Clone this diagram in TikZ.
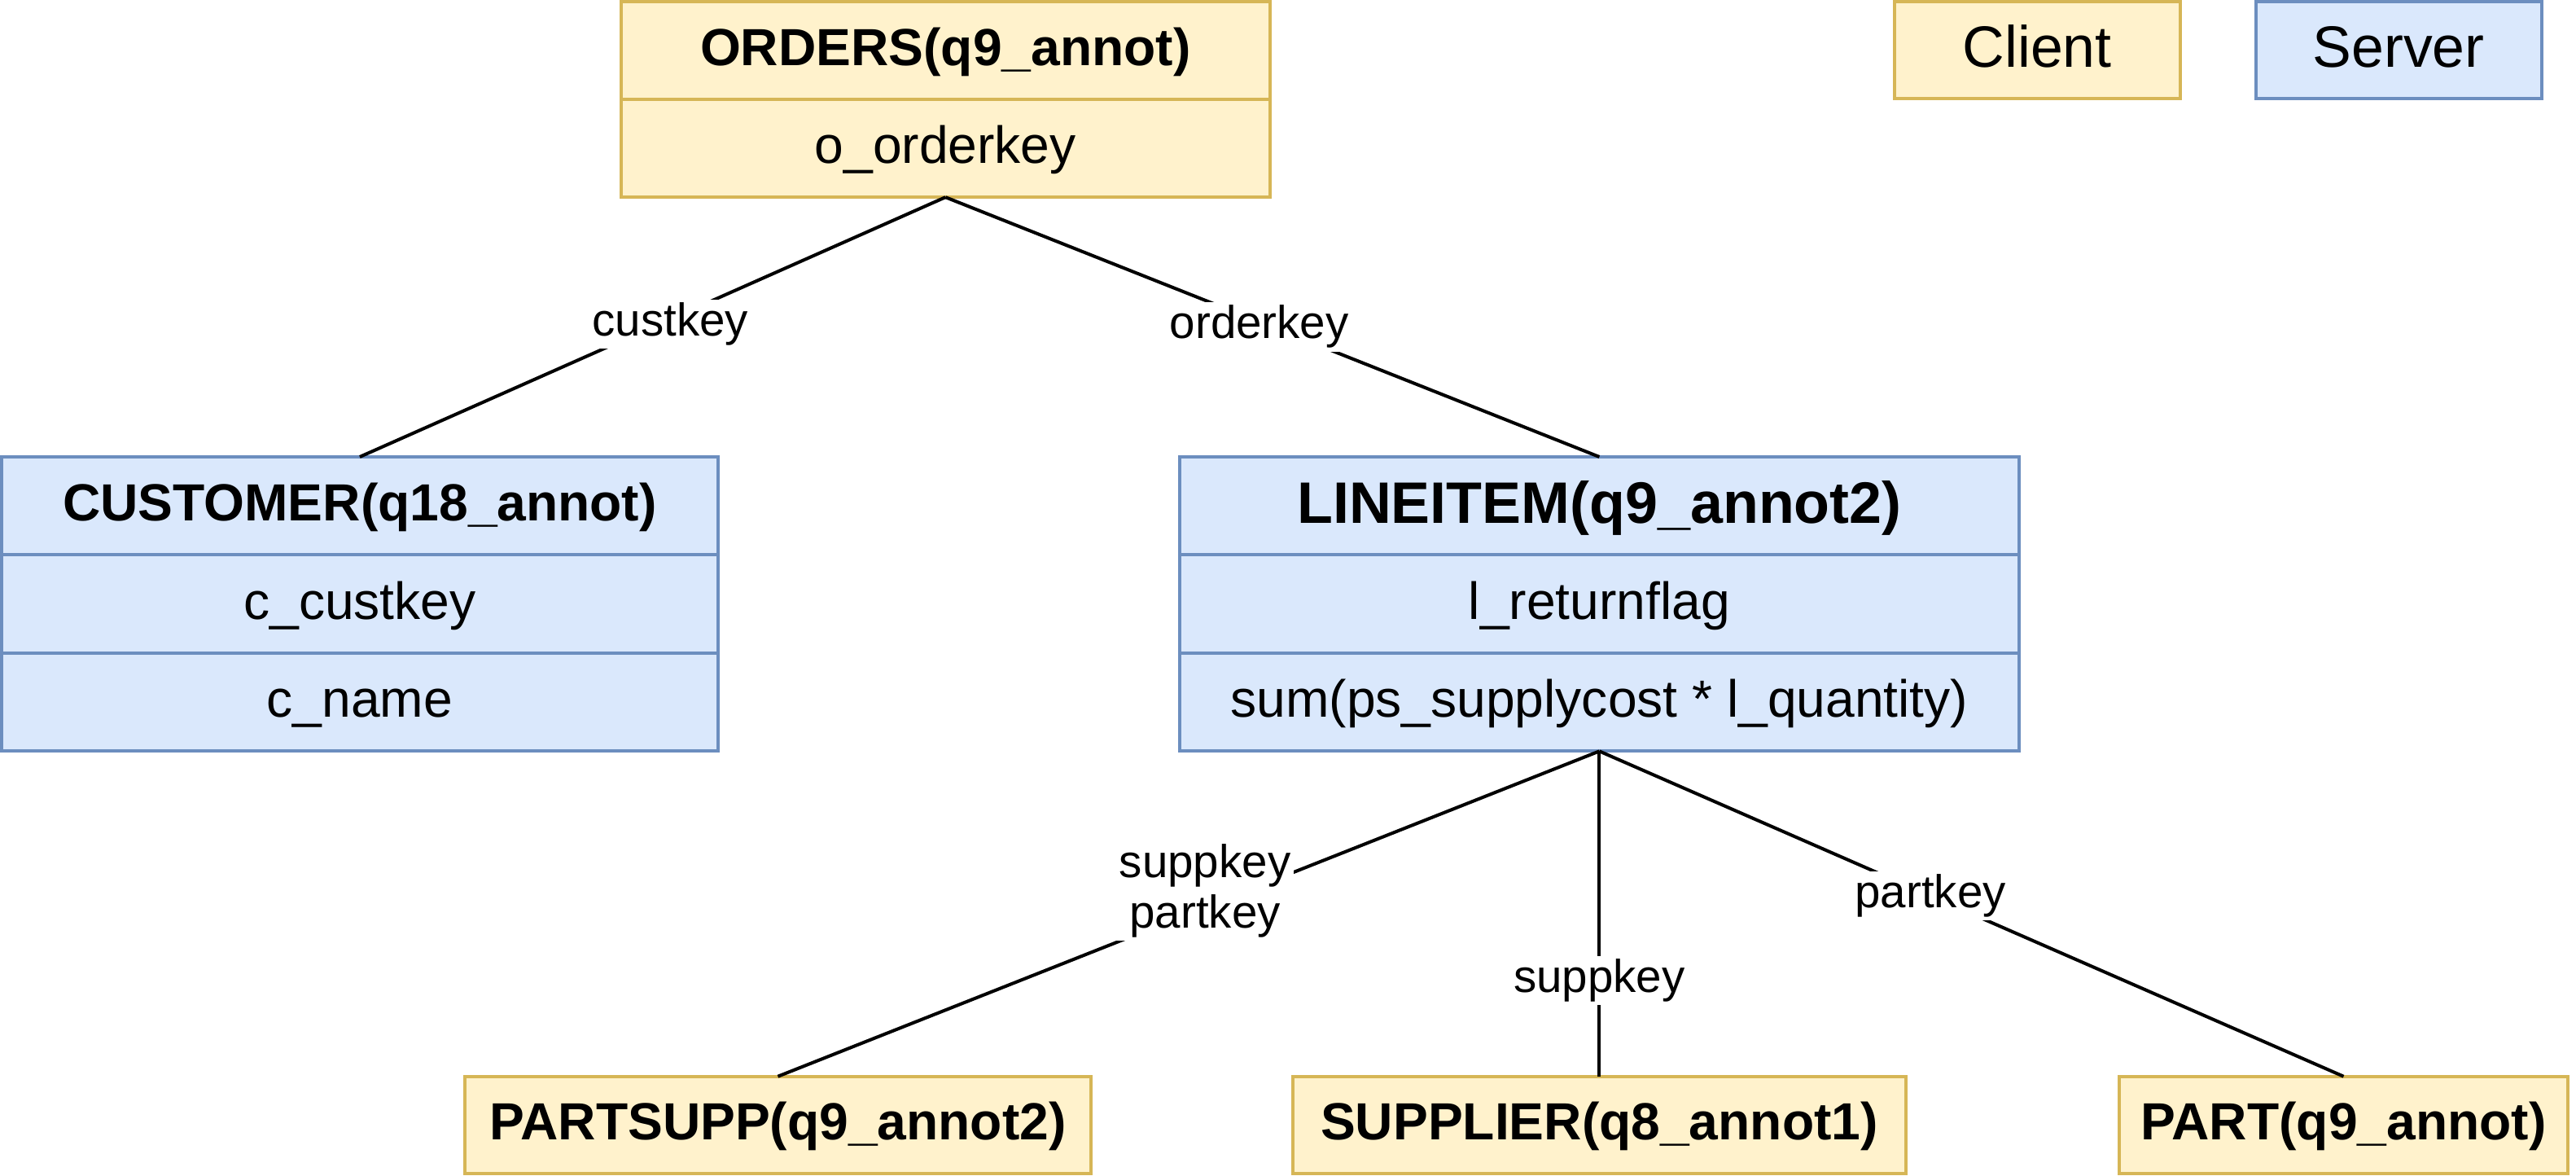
\documentclass[tikz,border=0pt]{standalone}
\usepackage{fontspec}
\setmainfont{Liberation Sans}
\definecolor{cfill}{HTML}{FFF2CC}
\definecolor{cdraw}{HTML}{D6B656}
\definecolor{sfill}{HTML}{DAE8FC}
\definecolor{sdraw}{HTML}{6C8EBF}
\tikzset{
  cell/.style={rectangle, line width=2pt, inner sep=0pt, outer sep=0pt, align=center,
    text height=22pt, text depth=3.6pt, font=\fontsize{31.8}{36}\selectfont},
  clientcell/.style={cell, fill=cfill, draw=cdraw},
  servercell/.style={cell, fill=sfill, draw=sdraw},
  head/.style={font=\fontsize{31.8}{36}\selectfont\bfseries},
  bighead/.style={font=\fontsize{35.6}{40}\selectfont\bfseries, text height=24.6pt, text depth=3.8pt},
  legend/.style={font=\fontsize{35.5}{40}\selectfont, text height=24.6pt, text depth=3.8pt},
  lbl/.style={fill=white, inner sep=2pt, align=center, font=\fontsize{28}{30.5}\selectfont},
  conn/.style={line width=2pt, black}
}
\begin{document}
\begin{tikzpicture}[x=1pt,y=-1pt]
\useasboundingbox[fill=white] (0,0) rectangle (1568,715.6);
% connectors (drawn first, boxes on top)
\coordinate (ordB) at (575.5,120);
\coordinate (liB) at (973.5,457);
% ORDERS
\node[clientcell, head, minimum width=395pt, minimum height=59.5pt] (ordH) at (575.5,30.75) {ORDERS(q9\_annot)};
\node[clientcell, minimum width=395pt, minimum height=59.5pt] (ordR) at (575.5,90.25) {o\_orderkey};
% Legend
\node[clientcell, legend, minimum width=174pt, minimum height=59pt] (client) at (1240,30.5) {Client};
\node[servercell, legend, minimum width=174pt, minimum height=59pt] (server) at (1460,30.5) {Server};
% CUSTOMER
\node[servercell, head, minimum width=436pt, minimum height=59.7pt] (custH) at (219,307.85) {CUSTOMER(q18\_annot)};
\node[servercell, minimum width=436pt, minimum height=59.7pt] (custR1) at (219,367.55) {c\_custkey};
\node[servercell, minimum width=436pt, minimum height=59.7pt] (custR2) at (219,427.25) {c\_name};
% LINEITEM
\node[servercell, bighead, minimum width=511pt, minimum height=59.7pt] (liH) at (973.5,307.85) {LINEITEM(q9\_annot2)};
\node[servercell, minimum width=511pt, minimum height=59.7pt] (liR1) at (973.5,367.55) {l\_returnflag};
\node[servercell, minimum width=511pt, minimum height=59.7pt] (liR2) at (973.5,427.25) {sum(ps\_supplycost * l\_quantity)};
% bottom row
\node[clientcell, head, minimum width=381pt, minimum height=59pt] (ps) at (473.5,684.5) {PARTSUPP(q9\_annot2)};
\node[clientcell, head, minimum width=373pt, minimum height=59pt] (sup) at (973.5,684.5) {SUPPLIER(q8\_annot1)};
\node[clientcell, head, minimum width=273pt, minimum height=59pt] (part) at (1426.5,684.5) {PART(q9\_annot)};
% connectors
\draw[conn] (ordR.south) -- node[lbl, pos=0.47, yshift=-3pt] {custkey} (custH.north);
\draw[conn] (ordR.south) -- node[lbl, pos=0.48, yshift=-3pt] {orderkey} (liH.north);
\draw[conn] (liR2.south) -- node[lbl, pos=0.48, yshift=10pt] {suppkey\\partkey} (ps.north);
\draw[conn] (liR2.south) -- node[lbl, pos=0.69, yshift=-3pt] {suppkey} (sup.north);
\draw[conn] (liR2.south) -- node[lbl, pos=0.445] {partkey} (part.north);
\end{tikzpicture}
\end{document}
